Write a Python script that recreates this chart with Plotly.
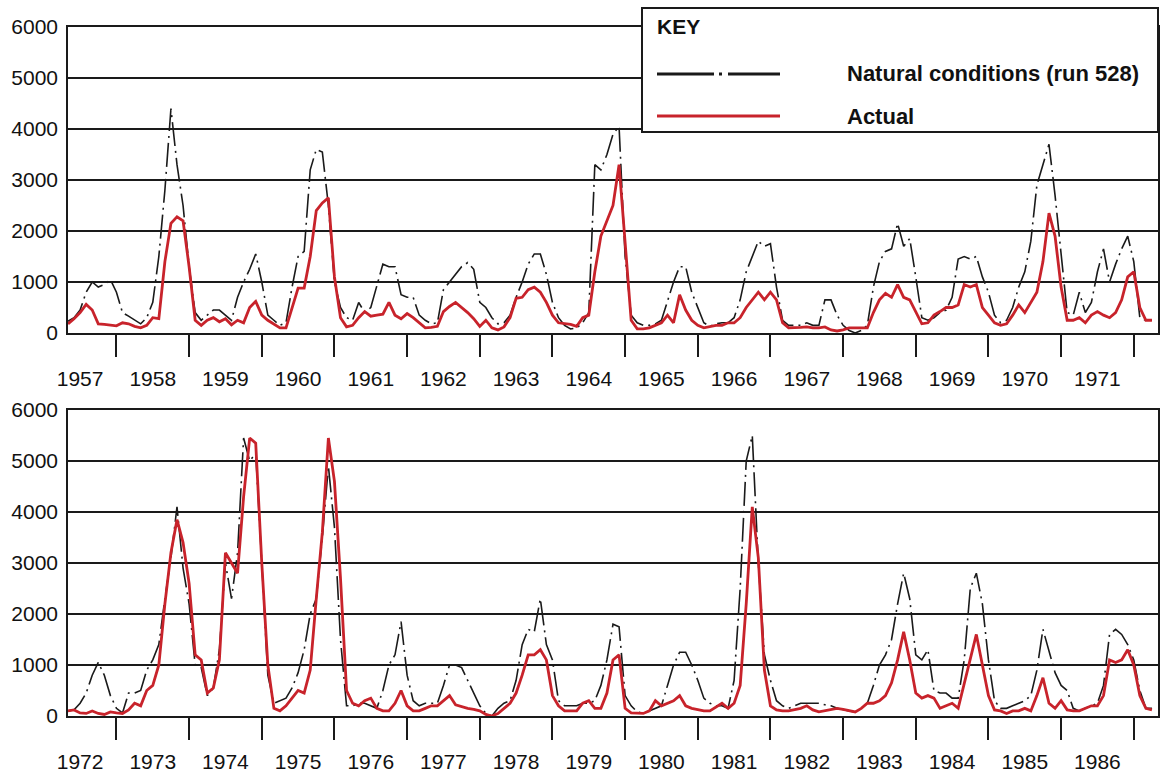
import plotly.graph_objects as go

# ---------------- data (monthly) ----------------
top_start = 1957 + 4 / 12      # first month shown in the upper panel
bot_start = 1972 + 4 / 12      # first month shown in the lower panel

top_years = [str(y) for y in range(1957, 1972)]
bot_years = [str(y) for y in range(1972, 1987)]

natural_top = [
    230, 300, 450, 800, 1000, 900, 950, 1050, 800, 400,
    330, 250, 180, 300, 600, 1500, 2800, 4400, 3300, 2500,
    1300, 400, 250, 350, 450, 450, 350, 250, 700, 1000,
    1250, 1550, 1000, 350, 250, 150, 200, 900, 1500, 1600,
    3200, 3600, 3550, 2500, 1000, 500, 300, 250, 600, 400,
    500, 900, 1350, 1300, 1300, 750, 700, 700, 350, 250,
    180, 200, 850, 1000, 1150, 1300, 1380, 1250, 600, 500,
    300, 180, 200, 350, 700, 1000, 1350, 1550, 1550, 1150,
    600, 300, 150, 80, 100, 200, 400, 3300, 3200, 3500,
    3900, 4050, 1500, 350, 200, 150, 150, 180, 250, 650,
    1000, 1300, 1300, 800, 500, 200, 130, 180, 200, 200,
    300, 650, 1200, 1500, 1800, 1700, 1750, 900, 250, 150,
    150, 150, 200, 150, 150, 650, 650, 350, 150, 50,
    0, 50, 150, 900, 1400, 1600, 1650, 2150, 1700, 1850,
    1100, 300, 250, 300, 400, 450, 700, 1450, 1500, 1450,
    1500, 1100, 800, 350, 200, 250, 500, 900, 1200, 1800,
    2900, 3300, 3700, 2700, 1500, 400, 350, 800, 400, 600,
    1200, 1650, 1000, 1350, 1650, 1900, 1400, 300, 250, 250,
]
actual_top = [
    180, 280, 400, 560, 450, 180, 170, 150, 140, 200,
    180, 130, 100, 150, 300, 280, 1400, 2150, 2280, 2200,
    1300, 250, 150, 250, 300, 220, 280, 160, 250, 200,
    500, 620, 350, 250, 180, 100, 100, 500, 880, 880,
    1500, 2400, 2550, 2650, 1100, 300, 120, 150, 300, 420,
    330, 350, 370, 600, 350, 280, 380, 300, 200, 100,
    110, 130, 420, 520, 600, 500, 400, 280, 130, 250,
    100, 60, 120, 300, 680, 700, 850, 900, 800, 600,
    350, 200, 180, 170, 130, 300, 350, 1200, 1900, 2200,
    2500, 3300, 1800, 250, 80, 80, 100, 150, 200, 350,
    200, 750, 450, 250, 150, 100, 120, 150, 150, 200,
    200, 300, 500, 650, 800, 650, 800, 650, 200, 100,
    100, 110, 120, 100, 100, 120, 60, 40, 60, 100,
    100, 100, 100, 400, 650, 780, 700, 950, 700, 650,
    400, 180, 200, 350, 420, 500, 500, 550, 950, 900,
    950, 500, 350, 200, 150, 180, 350, 550, 400, 600,
    800, 1400, 2350, 1900, 900, 250, 250, 300, 200, 350,
    420, 350, 300, 400, 650, 1100, 1200, 500, 250, 250,
]
natural_bot = [
    100, 120, 250, 450, 800, 1050, 800, 400, 150, 60,
    450, 450, 500, 900, 1100, 1400, 2300, 3100, 4100, 2900,
    2200, 1000, 950, 400, 550, 1300, 3000, 2300, 3200, 5450,
    5000, 5150, 3000, 800, 250, 300, 350, 550, 850, 1300,
    2000, 2300, 3500, 4900, 3700, 1500, 200, 200, 250, 250,
    200, 150, 500, 1000, 1200, 1850, 800, 300, 200, 250,
    250, 250, 600, 1000, 1000, 950, 700, 450, 200, 50,
    0, 150, 250, 300, 700, 1400, 1700, 1650, 2300, 1400,
    1100, 300, 200, 200, 200, 250, 250, 300, 600, 1100,
    1800, 1750, 400, 200, 80, 50, 100, 150, 200, 600,
    1000, 1250, 1250, 1000, 700, 350, 250, 200, 200, 150,
    700, 2500, 5000, 5500, 3000, 1200, 700, 300, 200, 150,
    200, 250, 250, 250, 250, 220, 200, 150, 120, 100,
    80, 150, 250, 600, 1000, 1200, 1500, 2200, 2800, 2300,
    1200, 1100, 1300, 500, 450, 450, 350, 350, 1100, 2500,
    2800, 2200, 1100, 300, 150, 150, 200, 250, 300, 400,
    900, 1700, 1300, 850, 600, 500, 150, 100, 150, 200,
    250, 600, 1600, 1700, 1600, 1400, 1100, 500, 150, 150,
]
actual_bot = [
    100, 120, 60, 50, 100, 50, 30, 80, 60, 50,
    120, 250, 200, 500, 600, 1000, 2200, 3200, 3850, 3400,
    2600, 1200, 1100, 450, 550, 1100, 3200, 3000, 2800, 4300,
    5450, 5350, 3000, 1000, 150, 100, 200, 350, 500, 450,
    900, 2300, 3600, 5450, 4600, 2700, 500, 250, 200, 300,
    350, 150, 100, 100, 250, 500, 200, 100, 100, 150,
    200, 200, 300, 400, 220, 180, 150, 130, 100, 30,
    0, 50, 150, 250, 450, 800, 1200, 1200, 1300, 1100,
    400, 200, 100, 100, 100, 250, 300, 150, 150, 450,
    1100, 1200, 150, 60, 50, 50, 100, 300, 200, 250,
    300, 400, 200, 150, 120, 100, 100, 180, 250, 150,
    250, 600, 2200, 4100, 3100, 900, 200, 120, 100, 100,
    120, 150, 200, 120, 80, 100, 120, 150, 130, 100,
    80, 150, 250, 250, 300, 400, 650, 1100, 1650, 1100,
    450, 350, 400, 350, 150, 200, 250, 150, 650, 1150,
    1600, 1000, 400, 120, 100, 50, 100, 100, 150, 100,
    400, 750, 250, 150, 300, 120, 100, 100, 150, 200,
    200, 400, 1100, 1050, 1100, 1300, 1000, 400, 150, 120,
]

y_ticks = [0, 1000, 2000, 3000, 4000, 5000, 6000]

# ---------------- figure ----------------
W, H = 1161, 778
BLACK = "#1a1a1a"
RED = "#c8232b"
DASHDOT = "24px,5px,2px,5px"

t_top = [top_start + i / 12 for i in range(len(natural_top))]
t_bot = [bot_start + i / 12 for i in range(len(natural_bot))]

fig = go.Figure()
fig.add_trace(go.Scatter(x=t_top, y=natural_top, mode="lines", xaxis="x", yaxis="y",
                         line=dict(color=BLACK, width=1.6, dash=DASHDOT),
                         name="Natural conditions (run 528)", showlegend=False))
fig.add_trace(go.Scatter(x=t_top, y=actual_top, mode="lines", xaxis="x", yaxis="y",
                         line=dict(color=RED, width=2.8), name="Actual", showlegend=False))
fig.add_trace(go.Scatter(x=t_bot, y=natural_bot, mode="lines", xaxis="x2", yaxis="y2",
                         line=dict(color=BLACK, width=1.6, dash=DASHDOT),
                         name="Natural conditions (run 528)", showlegend=False))
fig.add_trace(go.Scatter(x=t_bot, y=actual_bot, mode="lines", xaxis="x2", yaxis="y2",
                         line=dict(color=RED, width=2.8), name="Actual", showlegend=False))

xdom = [68 / W, 1158 / W]
top_dom = [1 - 333 / H, 1 - 27 / H]
bot_dom = [1 - 716 / H, 1 - 410 / H]

tickfont = dict(family="Liberation Sans, Arial, sans-serif", size=21, color="#111")


def xaxis_cfg(first_year, anchor):
    years = list(range(first_year, first_year + 15))
    return dict(
        domain=xdom, anchor=anchor, automargin=False,
        range=[first_year + 4 / 12, first_year + 15 + 4 / 12],
        showgrid=False, zeroline=False,
        showline=True, mirror=True, linecolor=BLACK, linewidth=1.5,
        tickmode="array", tickvals=[y + 0.5 for y in years],
        ticktext=top_years if first_year == 1957 else bot_years,
        ticks="outside", ticklen=26, tickcolor="rgba(0,0,0,0)",
        tickfont=tickfont,
        minor=dict(tickmode="array", tickvals=[y + 1 for y in years],
                   ticks="outside", ticklen=22, tickwidth=1.5, tickcolor=BLACK),
        fixedrange=True,
    )


def yaxis_cfg(dom, anchor):
    return dict(
        domain=dom, anchor=anchor, range=[0, 6000], automargin=False,
        tickmode="array", tickvals=y_ticks, ticktext=[str(v) for v in y_ticks],
        showgrid=True, gridcolor=BLACK, gridwidth=1.5, zeroline=False,
        showline=True, mirror=True, linecolor=BLACK, linewidth=1.5,
        ticks="outside", ticklen=4, tickcolor="rgba(0,0,0,0)",
        tickfont=tickfont, fixedrange=True,
    )


fig.update_layout(
    width=W, height=H,
    margin=dict(l=0, r=0, t=0, b=0, autoexpand=False),
    paper_bgcolor="white", plot_bgcolor="white",
    font=dict(family="Liberation Sans, Arial, sans-serif", color="#111"),
    xaxis=xaxis_cfg(1957, "y"),
    yaxis=yaxis_cfg(top_dom, "x"),
    xaxis2=xaxis_cfg(1972, "y2"),
    yaxis2=yaxis_cfg(bot_dom, "x2"),
    showlegend=False,
)

# ---------------- key box ----------------
def px(x):
    return x / W


def py(y):
    return 1 - y / H


fig.add_shape(type="rect", xref="paper", yref="paper",
              x0=px(642), x1=px(1158), y0=py(132), y1=py(8),
              line=dict(color=BLACK, width=2), fillcolor="white", layer="above")
fig.add_shape(type="line", xref="paper", yref="paper",
              x0=px(657), x1=px(780), y0=py(74), y1=py(74),
              line=dict(color=BLACK, width=3, dash="57px,5px,3px,6px"), layer="above")
fig.add_shape(type="line", xref="paper", yref="paper",
              x0=px(657), x1=px(780), y0=py(116), y1=py(116),
              line=dict(color=RED, width=3), layer="above")

keyfont = dict(family="Liberation Sans, Arial, sans-serif", size=22, color="#111")
fig.add_annotation(x=px(655), y=py(27), xref="paper", yref="paper", text="<b>KEY</b>",
                   showarrow=False, xanchor="left", yanchor="middle",
                   font=dict(family="Liberation Sans, Arial, sans-serif", size=21, color="#111"))
fig.add_annotation(x=px(845), y=py(74), xref="paper", yref="paper",
                   text="<b>Natural conditions (run 528)</b>",
                   showarrow=False, xanchor="left", yanchor="middle", font=keyfont)
fig.add_annotation(x=px(845), y=py(116), xref="paper", yref="paper", text="<b>Actual</b>",
                   showarrow=False, xanchor="left", yanchor="middle", font=keyfont)

fig.write_html("out.html")
